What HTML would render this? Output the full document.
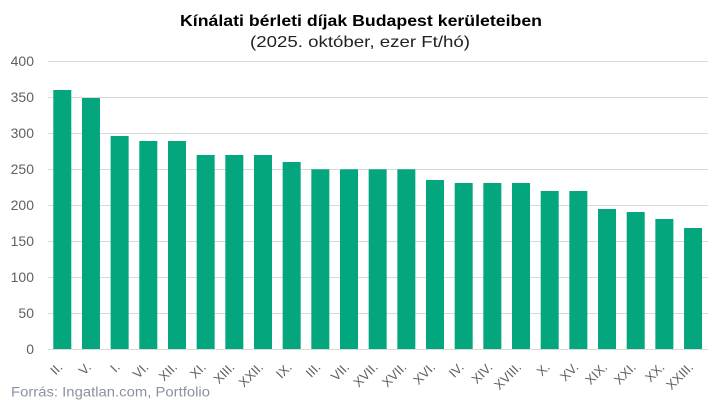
<!DOCTYPE html>
<html><head><meta charset="utf-8"><style>
html,body{margin:0;padding:0;background:#fff;}
svg{display:block;font-family:"Liberation Sans",Arial,sans-serif;}
</style></head><body>
<svg width="722" height="406" viewBox="0 0 722 406" xmlns="http://www.w3.org/2000/svg">
<rect width="722" height="406" fill="#fff"/>
<text x="361" y="26" text-anchor="middle" font-size="16" font-weight="bold" fill="#000" textLength="362" lengthAdjust="spacingAndGlyphs">Kínálati bérleti díjak Budapest kerületeiben</text>
<text x="360" y="47" text-anchor="middle" font-size="16" fill="#222" textLength="220" lengthAdjust="spacingAndGlyphs">(2025. október, ezer Ft/hó)</text>
<g stroke="#d9d9d9" stroke-width="1">
<line x1="48" x2="708" y1="61.5" y2="61.5"/>
<line x1="48" x2="708" y1="97.5" y2="97.5"/>
<line x1="48" x2="708" y1="133.5" y2="133.5"/>
<line x1="48" x2="708" y1="169.5" y2="169.5"/>
<line x1="48" x2="708" y1="205.5" y2="205.5"/>
<line x1="48" x2="708" y1="241.5" y2="241.5"/>
<line x1="48" x2="708" y1="277.5" y2="277.5"/>
<line x1="48" x2="708" y1="313.5" y2="313.5"/>
<line x1="48" x2="708" y1="349.5" y2="349.5"/>
</g>
<g font-size="14" fill="#606060" text-anchor="end">
<text x="34" y="66">400</text>
<text x="34" y="102">350</text>
<text x="34" y="138">300</text>
<text x="34" y="174">250</text>
<text x="34" y="210">200</text>
<text x="34" y="246">150</text>
<text x="34" y="282">100</text>
<text x="34" y="318">50</text>
<text x="34" y="354">0</text>
</g>
<g fill="#03a67d">
<rect x="53.3" y="90" width="18" height="259"/>
<rect x="81.97" y="98" width="18" height="251"/>
<rect x="110.64" y="136" width="18" height="213"/>
<rect x="139.31" y="141" width="18" height="208"/>
<rect x="167.98" y="141" width="18" height="208"/>
<rect x="196.65" y="155" width="18" height="194"/>
<rect x="225.32" y="155" width="18" height="194"/>
<rect x="253.99" y="155" width="18" height="194"/>
<rect x="282.66" y="162" width="18" height="187"/>
<rect x="311.33" y="169.3" width="18" height="179.7"/>
<rect x="340" y="169.3" width="18" height="179.7"/>
<rect x="368.67" y="169.3" width="18" height="179.7"/>
<rect x="397.34" y="169.3" width="18" height="179.7"/>
<rect x="426.01" y="180" width="18" height="169"/>
<rect x="454.68" y="183" width="18" height="166"/>
<rect x="483.35" y="183" width="18" height="166"/>
<rect x="512.02" y="183" width="18" height="166"/>
<rect x="540.69" y="191" width="18" height="158"/>
<rect x="569.36" y="191" width="18" height="158"/>
<rect x="598.03" y="209" width="18" height="140"/>
<rect x="626.7" y="212" width="18" height="137"/>
<rect x="655.37" y="219" width="18" height="130"/>
<rect x="684.04" y="228" width="18" height="121"/>
</g>
<g font-size="13" fill="#606060" text-anchor="end">
<text transform="translate(63.3,368) rotate(-45)">II.</text>
<text transform="translate(91.97,368) rotate(-45)">V.</text>
<text transform="translate(120.64,368) rotate(-45)">I.</text>
<text transform="translate(149.31,368) rotate(-45)">VI.</text>
<text transform="translate(177.98,368) rotate(-45)">XII.</text>
<text transform="translate(206.65,368) rotate(-45)">XI.</text>
<text transform="translate(235.32,368) rotate(-45)">XIII.</text>
<text transform="translate(263.99,368) rotate(-45)">XXII.</text>
<text transform="translate(292.66,368) rotate(-45)">IX.</text>
<text transform="translate(321.33,368) rotate(-45)">III.</text>
<text transform="translate(350,368) rotate(-45)">VII.</text>
<text transform="translate(378.67,368) rotate(-45)">XVII.</text>
<text transform="translate(407.34,368) rotate(-45)">XVII.</text>
<text transform="translate(436.01,368) rotate(-45)">XVI.</text>
<text transform="translate(464.68,368) rotate(-45)">IV.</text>
<text transform="translate(493.35,368) rotate(-45)">XIV.</text>
<text transform="translate(522.02,368) rotate(-45)">XVIII.</text>
<text transform="translate(550.69,368) rotate(-45)">X.</text>
<text transform="translate(579.36,368) rotate(-45)">XV.</text>
<text transform="translate(608.03,368) rotate(-45)">XIX.</text>
<text transform="translate(636.7,368) rotate(-45)">XXI.</text>
<text transform="translate(665.37,368) rotate(-45)">XX.</text>
<text transform="translate(694.04,368) rotate(-45)">XXIII.</text>
</g>
<text x="11" y="396.5" font-size="14" fill="#8a92a0" textLength="199" lengthAdjust="spacingAndGlyphs">Forrás: Ingatlan.com, Portfolio</text>
</svg>
</body></html>
